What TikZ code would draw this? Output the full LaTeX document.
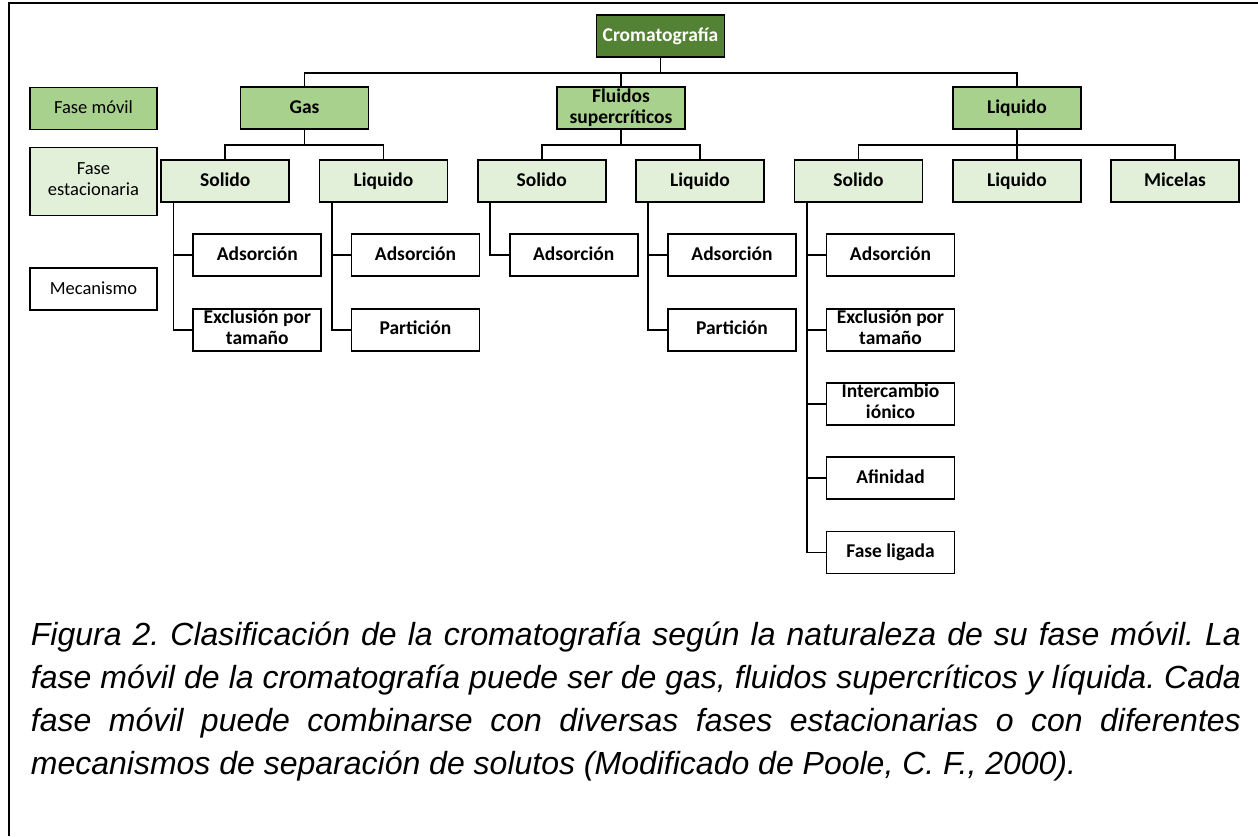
\documentclass[tikz,border=0pt]{standalone}
\usepackage{fontspec}
\setmainfont{Carlito}
\newfontfamily\capfont{Liberation Sans}
\usetikzlibrary{positioning}
\definecolor{verdeosc}{HTML}{548235}
\definecolor{verdemed}{HTML}{A9D18E}
\definecolor{verdecla}{HTML}{E2F0D9}
\newcommand\puntal{\rule[-4.5pt]{0pt}{19.5pt}}

\begin{document}
\begin{tikzpicture}[x=1pt,y=-1pt,line width=1.8pt,node distance=30.5pt,font=\fontsize{19.5}{21}\selectfont\bfseries]
    \tikzstyle{caja}=[draw,align=center,minimum width=128pt,minimum height=42pt,inner sep=1pt,
                      execute at begin node=\puntal,execute at end node=\puntal]
    \tikzstyle{raiz}=[caja,fill=verdeosc,text=white]
    \tikzstyle{movil}=[caja,fill=verdemed]
    \tikzstyle{estac}=[caja,fill=verdecla]
    \tikzstyle{mec}=[caja,fill=white]
    \tikzstyle{leyenda}=[font=\fontsize{18.5}{21}\selectfont\mdseries,minimum width=127pt]

    \useasboundingbox (0,0) rectangle (1258,836);
    \draw (9,836) -- (9,3) -- (1258,3);

    \node[raiz]  (C)  at (660.5,36)  {Cromatografía};
    \node[movil] (G)  at (304.5,108) {Gas};
    \node[movil] (F)  at (621,108)   {Fluidos\\supercríticos};
    \node[movil] (L)  at (1017,108)  {Liquido};

    \node[estac] (GS) at (225.3,181) {Solido};
    \node[estac] (GL) at (383.5,181) {Liquido};
    \node[estac] (FS) at (541.7,181) {Solido};
    \node[estac] (FL) at (700,181)   {Liquido};
    \node[estac] (LS) at (858.5,181) {Solido};
    \node[estac] (LL) at (1017,181)  {Liquido};
    \node[estac] (LM) at (1175,181)  {Micelas};

    \node[mec] (GS1) [below=of GS,xshift=32pt]  {Adsorción};
    \node[mec] (GS2) [below=of GS1]             {Exclusión por\\tamaño};
    \node[mec] (GL1) [below=of GL,xshift=32pt]  {Adsorción};
    \node[mec] (GL2) [below=of GL1]             {Partición};
    \node[mec] (FS1) [below=of FS,xshift=32pt]  {Adsorción};
    \node[mec] (FL1) [below=of FL,xshift=32pt]  {Adsorción};
    \node[mec] (FL2) [below=of FL1]             {Partición};
    \node[mec] (LS1) [below=of LS,xshift=32pt]  {Adsorción};
    \node[mec] (LS2) [below=of LS1]             {Exclusión por\\tamaño};
    \node[mec] (LS3) [below=of LS2]             {Intercambio\\iónico};
    \node[mec] (LS4) [below=of LS3]             {Afinidad};
    \node[mec] (LS5) [below=of LS4]             {Fase ligada};

    \node[movil,leyenda] (M) at (93.5,108.5) {Fase móvil};
    \node[estac,leyenda,minimum height=68pt] (E) at (93.5,181.5) {Fase\\estacionaria};
    \node[mec,leyenda] (K) at (93.5,289) {Mecanismo};

    \foreach \h in {G,F,L}
        \draw (C.south) -- ++(0,15) -| (\h.north);
    \foreach \p/\h in {G/GS,G/GL,F/FS,F/FL,L/LS,L/LL,L/LM}
        \draw (\p.south) -- ++(0,15) -| (\h.north);
    \foreach \p/\h in {GS/GS1,GS/GS2,GL/GL1,GL/GL2,FS/FS1,FL/FL1,FL/FL2,LS/LS1,LS/LS2,LS/LS3,LS/LS4,LS/LS5}
        \draw (\p.south west) ++(13,0) |- (\h.west);

    \node[anchor=base west,inner sep=0pt,text width=1210pt,align=justify,
          font=\capfont\fontsize{32}{43}\selectfont\itshape\frenchspacing] (T) at (30,645)
        {Figura 2. Clasificación de la cromatografía según la naturaleza de su fase móvil. La\linebreak
         fase móvil de la cromatografía puede ser de gas, fluidos supercríticos y líquida. Cada\linebreak
         fase móvil puede combinarse con diversas fases estacionarias o con diferentes\linebreak
         mecanismos de separación de solutos (Modificado de Poole, C. F., 2000).};
\end{tikzpicture}
\end{document}
